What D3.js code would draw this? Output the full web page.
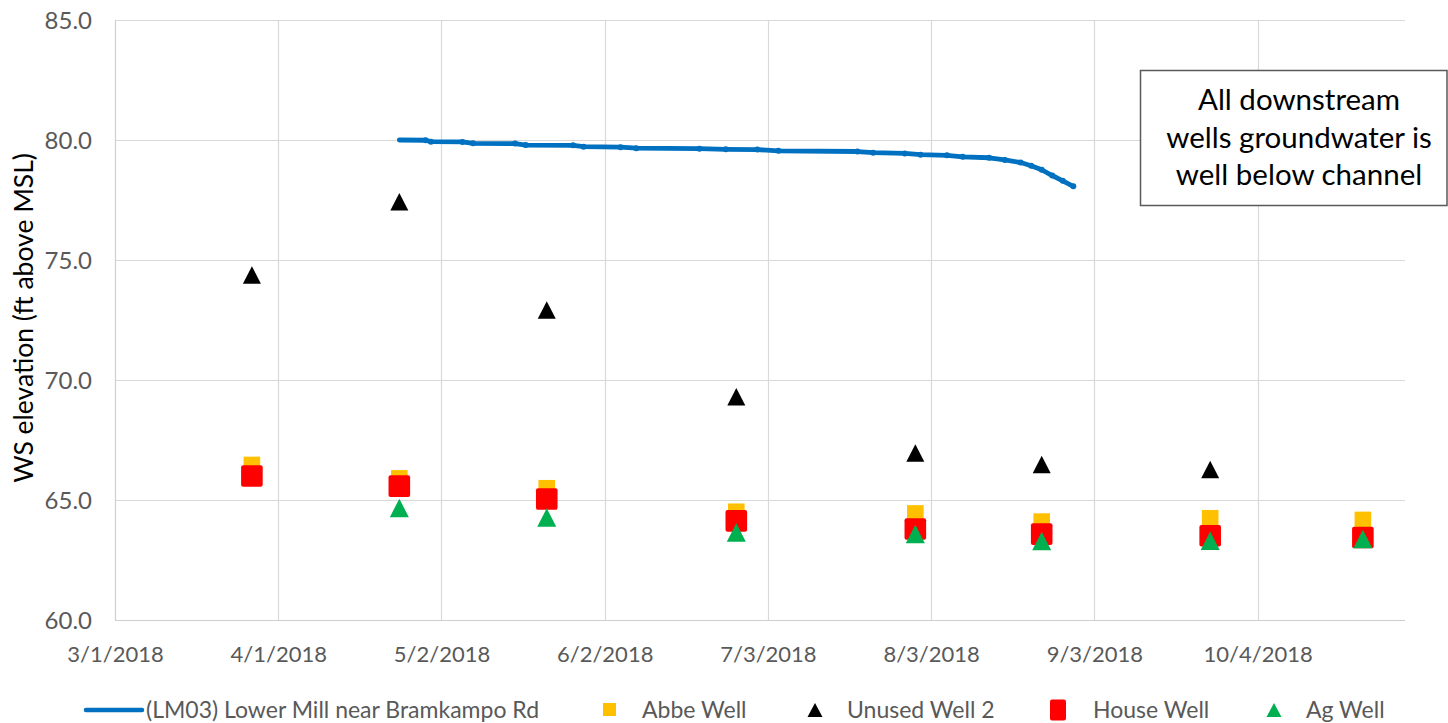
<!DOCTYPE html>
<html>
<head>
<meta charset="utf-8">
<script src="https://cdn.jsdelivr.net/npm/d3@7"></script>
<style>
  html, body { margin: 0; padding: 0; background: #fff; }
  svg { display: block; }
  text { font-family: Lato, "Open Sans", sans-serif; }
</style>
</head>
<body>
<svg id="chart" width="1448" height="723"></svg>
<script>
// ---------------- DATA ----------------
const tickLabels = ["3/1/2018","4/1/2018","5/2/2018","6/2/2018","7/3/2018","8/3/2018","9/3/2018","10/4/2018"];
const yTicks = [60, 65, 70, 75, 80, 85];

const lineName = "(LM03) Lower Mill near Bramkampo Rd";
const lineDates = ["2018-04-24","2018-04-29","2018-04-30","2018-05-06","2018-05-08","2018-05-16","2018-05-18","2018-05-27","2018-05-29","2018-06-05","2018-06-08","2018-06-20","2018-06-25","2018-07-01","2018-07-05","2018-07-20","2018-07-23","2018-07-29","2018-08-01","2018-08-06","2018-08-09","2018-08-14","2018-08-17","2018-08-20","2018-08-22","2018-08-24","2018-08-26","2018-08-28","2018-08-30"];
const lineValues = [80.00,79.99,79.93,79.92,79.86,79.85,79.79,79.78,79.72,79.70,79.66,79.64,79.61,79.60,79.55,79.52,79.47,79.44,79.39,79.36,79.30,79.26,79.17,79.06,78.93,78.76,78.52,78.30,78.07];

const wellDates = ["2018-03-27","2018-04-24","2018-05-22","2018-06-27","2018-07-31","2018-08-24","2018-09-25","2018-10-24"];
const abbeWell    = [66.46, 65.90, 65.49, 64.51, 64.44, 64.10, 64.24, 64.17];
const unusedWell2 = [74.38, 77.43, 72.92, 69.30, 66.96, 66.48, 66.27, null];
const houseWell   = [66.00, 65.58, 65.04, 64.13, 63.79, 63.58, 63.51, 63.44];
const agWell      = [null, 64.67, 64.27, 63.65, 63.58, 63.29, 63.30, 63.38];

const seriesNames = ["Abbe Well", "Unused Well 2", "House Well", "Ag Well"];
const annotationLines = ["All downstream", "wells groundwater is", "well below channel"];
const yTitle = "WS elevation (ft above MSL)";

// ---------------- LAYOUT ----------------
const svg = d3.select("#chart");
const L = 115, R = 1405, T = 20, B = 620;
const parse = d3.utcParse("%Y-%m-%d");
const parseTick = d3.utcParse("%m/%d/%Y");

const x = d3.scaleUtc().domain([parse("2018-03-01"), parse("2018-11-01")]).range([L, R]);
const y = d3.scaleLinear().domain([60, 85]).range([B, T]);

const tickDates = tickLabels.map(parseTick);
const gridColor = "#d9d9d9";
const labelColor = "#595959";

// gridlines horizontal
svg.append("g").selectAll("line").data(yTicks).join("line")
  .attr("x1", L).attr("x2", R)
  .attr("y1", d => y(d) + 0.5).attr("y2", d => y(d) + 0.5)
  .attr("stroke", d => d === 60 ? "#cfcfcf" : gridColor).attr("stroke-width", 1.2);

// gridlines vertical
svg.append("g").selectAll("line").data(tickDates).join("line")
  .attr("x1", d => Math.round(x(d)) + 0.5).attr("x2", d => Math.round(x(d)) + 0.5)
  .attr("y1", T).attr("y2", B)
  .attr("stroke", (d, i) => i === 0 ? "#cfcfcf" : gridColor).attr("stroke-width", 1.2);

// y axis labels
const yAxis = d3.axisLeft(y).tickValues(yTicks).tickFormat(d3.format(".1f")).tickSize(0).tickPadding(23);
const gy = svg.append("g").attr("transform", `translate(${L},0)`).call(yAxis);
gy.select(".domain").remove();
gy.selectAll("text").attr("fill", labelColor).style("font-size", "24px")
  .style("font-family", "Lato, sans-serif").attr("dy", "0.36em");

// x axis labels
const xAxis = d3.axisBottom(x).tickValues(tickDates).tickFormat((d, i) => tickLabels[i]).tickSize(0).tickPadding(26);
const gx = svg.append("g").attr("transform", `translate(0,${B})`).call(xAxis);
gx.select(".domain").remove();
gx.selectAll("text").attr("fill", labelColor).style("font-size", "22px")
  .style("font-family", "Lato, sans-serif");

// y title
svg.append("text")
  .attr("transform", `translate(33,${(T + B) / 2 - 2}) rotate(-90)`)
  .attr("text-anchor", "middle")
  .attr("fill", "#000")
  .style("font-family", "Lato, sans-serif")
  .style("font-size", "26.5px")
  .text(yTitle);

// line series
const lineData = lineDates.map((d, i) => ({ date: parse(d), v: lineValues[i] }));
const lineGen = d3.line().x(d => x(d.date)).y(d => y(d.v));
svg.append("path").datum(lineData)
  .attr("d", lineGen)
  .attr("fill", "none").attr("stroke", "#0070C0").attr("stroke-width", 4.8)
  .attr("stroke-linecap", "round").attr("stroke-linejoin", "round");
svg.append("g").selectAll("circle").data(lineData.slice(1)).join("circle")
  .attr("cx", d => x(d.date)).attr("cy", d => y(d.v)).attr("r", 3).attr("fill", "#0070C0");

// markers
const wd = wellDates.map(parse);
function pts(vals) { return vals.map((v, i) => ({ date: wd[i], v })).filter(d => d.v !== null); }
const tri = (w, h) => `M0,${-h/2}L${w/2},${h/2}L${-w/2},${h/2}Z`;

// Abbe Well (orange square)
svg.append("g").selectAll("rect").data(pts(abbeWell)).join("rect")
  .attr("x", d => x(d.date) - 8.3).attr("y", d => y(d.v) - 8.3)
  .attr("width", 16.6).attr("height", 16.6).attr("fill", "#FFC000");

// Unused Well 2 (black triangle)
svg.append("g").selectAll("path").data(pts(unusedWell2)).join("path")
  .attr("transform", d => `translate(${x(d.date)},${y(d.v)})`)
  .attr("d", tri(18, 17.5)).attr("fill", "#000");

// House Well (red square)
svg.append("g").selectAll("rect").data(pts(houseWell)).join("rect")
  .attr("x", d => x(d.date) - 10.8).attr("y", d => y(d.v) - 10.8)
  .attr("width", 21.6).attr("height", 21.6).attr("rx", 2).attr("fill", "#FF0000");

// Ag Well (green triangle)
svg.append("g").selectAll("path").data(pts(agWell)).join("path")
  .attr("transform", d => `translate(${x(d.date)},${y(d.v)})`)
  .attr("d", tri(19, 18.5)).attr("fill", "#00B050");

// annotation box
svg.append("rect").attr("x", 1140.5).attr("y", 70.5).attr("width", 306.5).attr("height", 135)
  .attr("fill", "#fff").attr("stroke", "#595959").attr("stroke-width", 1.5);
svg.append("g").selectAll("text").data(annotationLines).join("text")
  .attr("x", 1299).attr("y", (d, i) => 110 + i * 37.5)
  .attr("text-anchor", "middle").attr("fill", "#000")
  .style("font-family", "Lato, sans-serif").style("font-size", "29.5px")
  .text(d => d);

// legend
const ly = 710;
const lg = svg.append("g");
lg.append("line").attr("x1", 86).attr("x2", 142).attr("y1", ly).attr("y2", ly)
  .attr("stroke", "#0070C0").attr("stroke-width", 4.5).attr("stroke-linecap", "round");
const legendText = [
  { x: 146, t: lineName },
  { x: 642, t: seriesNames[0] },
  { x: 847, t: seriesNames[1] },
  { x: 1093, t: seriesNames[2] },
  { x: 1306, t: seriesNames[3] }
];
lg.selectAll("text").data(legendText).join("text")
  .attr("x", d => d.x).attr("y", ly + 8)
  .attr("fill", labelColor).style("font-size", "23px").text(d => d.t);
lg.append("rect").attr("x", 603).attr("y", ly - 7).attr("width", 13).attr("height", 13).attr("fill", "#FFC000");
lg.append("path").attr("transform", `translate(815,${ly})`).attr("d", tri(15, 14)).attr("fill", "#000");
lg.append("rect").attr("x", 1050).attr("y", ly - 10.5).attr("width", 16).attr("height", 21).attr("rx", 2).attr("fill", "#FF0000");
lg.append("path").attr("transform", `translate(1274,${ly})`).attr("d", tri(15, 14)).attr("fill", "#00B050");
</script>
</body>
</html>
